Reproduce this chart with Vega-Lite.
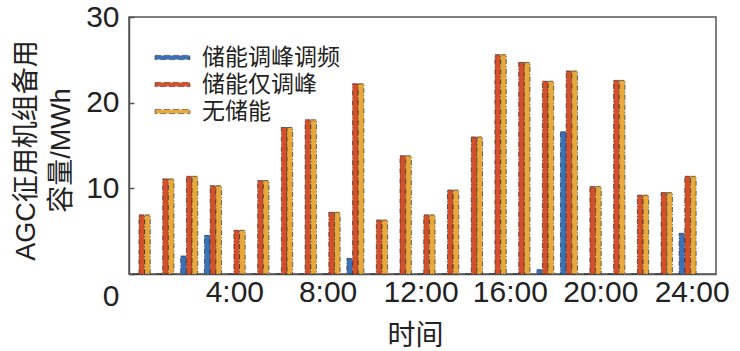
{
  "$schema": "https://vega.github.io/schema/vega-lite/v6.json",
  "width": 587,
  "height": 257,
  "autosize": {"type": "none"},
  "padding": {"left": 129, "top": 17, "right": 24, "bottom": 77},
  "background": "white",
  "config": {
    "font": "Liberation Sans, Noto Sans CJK SC",
    "view": {"stroke": "#555555", "strokeWidth": 1.5},
    "axis": {"domainColor": "#555555", "domainWidth": 1.5, "grid": false, "labelColor": "#222222", "titleColor": "#222222", "titleFontWeight": "normal"}
  },
  "data": {
    "values": [
      {"hour": 1, "series": "储能调峰调频", "value": 0},
      {"hour": 2, "series": "储能调峰调频", "value": 0},
      {"hour": 3, "series": "储能调峰调频", "value": 2.1},
      {"hour": 4, "series": "储能调峰调频", "value": 4.5},
      {"hour": 5, "series": "储能调峰调频", "value": 0},
      {"hour": 6, "series": "储能调峰调频", "value": 0},
      {"hour": 7, "series": "储能调峰调频", "value": 0},
      {"hour": 8, "series": "储能调峰调频", "value": 0},
      {"hour": 9, "series": "储能调峰调频", "value": 0},
      {"hour": 10, "series": "储能调峰调频", "value": 1.8},
      {"hour": 11, "series": "储能调峰调频", "value": 0},
      {"hour": 12, "series": "储能调峰调频", "value": 0},
      {"hour": 13, "series": "储能调峰调频", "value": 0},
      {"hour": 14, "series": "储能调峰调频", "value": 0},
      {"hour": 15, "series": "储能调峰调频", "value": 0},
      {"hour": 16, "series": "储能调峰调频", "value": 0},
      {"hour": 17, "series": "储能调峰调频", "value": 0},
      {"hour": 18, "series": "储能调峰调频", "value": 0.5},
      {"hour": 19, "series": "储能调峰调频", "value": 16.6},
      {"hour": 20, "series": "储能调峰调频", "value": 0},
      {"hour": 21, "series": "储能调峰调频", "value": 0},
      {"hour": 22, "series": "储能调峰调频", "value": 0},
      {"hour": 23, "series": "储能调峰调频", "value": 0},
      {"hour": 24, "series": "储能调峰调频", "value": 4.75},
      {"hour": 1, "series": "储能仅调峰", "value": 6.9},
      {"hour": 2, "series": "储能仅调峰", "value": 11.1},
      {"hour": 3, "series": "储能仅调峰", "value": 11.4},
      {"hour": 4, "series": "储能仅调峰", "value": 10.3},
      {"hour": 5, "series": "储能仅调峰", "value": 5.1},
      {"hour": 6, "series": "储能仅调峰", "value": 10.9},
      {"hour": 7, "series": "储能仅调峰", "value": 17.1},
      {"hour": 8, "series": "储能仅调峰", "value": 18.0},
      {"hour": 9, "series": "储能仅调峰", "value": 7.2},
      {"hour": 10, "series": "储能仅调峰", "value": 22.2},
      {"hour": 11, "series": "储能仅调峰", "value": 6.3},
      {"hour": 12, "series": "储能仅调峰", "value": 13.8},
      {"hour": 13, "series": "储能仅调峰", "value": 6.9},
      {"hour": 14, "series": "储能仅调峰", "value": 9.8},
      {"hour": 15, "series": "储能仅调峰", "value": 16.0},
      {"hour": 16, "series": "储能仅调峰", "value": 25.6},
      {"hour": 17, "series": "储能仅调峰", "value": 24.7},
      {"hour": 18, "series": "储能仅调峰", "value": 22.5},
      {"hour": 19, "series": "储能仅调峰", "value": 23.7},
      {"hour": 20, "series": "储能仅调峰", "value": 10.2},
      {"hour": 21, "series": "储能仅调峰", "value": 22.6},
      {"hour": 22, "series": "储能仅调峰", "value": 9.2},
      {"hour": 23, "series": "储能仅调峰", "value": 9.5},
      {"hour": 24, "series": "储能仅调峰", "value": 11.4},
      {"hour": 1, "series": "无储能", "value": 6.9},
      {"hour": 2, "series": "无储能", "value": 11.1},
      {"hour": 3, "series": "无储能", "value": 11.4},
      {"hour": 4, "series": "无储能", "value": 10.3},
      {"hour": 5, "series": "无储能", "value": 5.1},
      {"hour": 6, "series": "无储能", "value": 10.9},
      {"hour": 7, "series": "无储能", "value": 17.1},
      {"hour": 8, "series": "无储能", "value": 18.0},
      {"hour": 9, "series": "无储能", "value": 7.2},
      {"hour": 10, "series": "无储能", "value": 22.2},
      {"hour": 11, "series": "无储能", "value": 6.3},
      {"hour": 12, "series": "无储能", "value": 13.8},
      {"hour": 13, "series": "无储能", "value": 6.9},
      {"hour": 14, "series": "无储能", "value": 9.8},
      {"hour": 15, "series": "无储能", "value": 16.0},
      {"hour": 16, "series": "无储能", "value": 25.6},
      {"hour": 17, "series": "无储能", "value": 24.7},
      {"hour": 18, "series": "无储能", "value": 22.5},
      {"hour": 19, "series": "无储能", "value": 23.7},
      {"hour": 20, "series": "无储能", "value": 10.2},
      {"hour": 21, "series": "无储能", "value": 22.6},
      {"hour": 22, "series": "无储能", "value": 9.2},
      {"hour": 23, "series": "无储能", "value": 9.5},
      {"hour": 24, "series": "无储能", "value": 11.4}
    ]
  },
  "encoding": {
    "x": {
      "field": "hour",
      "type": "quantitative",
      "scale": {"domain": [0.673, 24.985], "nice": false, "zero": false},
      "axis": {
        "title": "时间",
        "titleFontSize": 28,
        "titleX": 286,
        "titleY": 62,
        "titleBaseline": "middle",
        "titleAnchor": "middle",
        "values": [4.9, 8.83, 12.75, 16.51, 20.32, 24.17],
        "labelExpr": "round((datum.value-1)/4)*4 + ':00'",
        "labelFontSize": 30,
        "labelPadding": 3,
        "ticks": false,
        "labelFlush": false,
        "labelOverlap": false
      }
    },
    "y": {
      "field": "value",
      "type": "quantitative",
      "scale": {"domain": [0, 30], "nice": false},
      "axis": {
        "title": ["AGC征用机组备用", "容量/MWh"],
        "titleFontSize": 27,
        "titleLineHeight": 35,
        "titleX": -103,
        "titleY": 133,
        "titleAngle": 270,
        "titleBaseline": "middle",
        "titleAlign": "center",
        "values": [0, 10, 20, 30],
        "labelFontSize": 30,
        "tickSize": -5,
        "tickColor": "#555555",
        "tickWidth": 1.5,
        "labelPadding": 15,
        "labelOffset": {"condition": {"test": "datum.value === 0", "value": 22}, "value": 0},
        "labelFlush": false,
        "labelOverlap": false
      }
    },
    "color": {
      "field": "series",
      "type": "nominal",
      "scale": {"domain": ["储能调峰调频", "储能仅调峰", "无储能"], "range": ["#3A72BA", "#D4502A", "#E8A93A"]},
      "legend": {
        "title": null,
        "orient": "none",
        "legendX": 32,
        "legendY": 29,
        "labelFontSize": 23,
        "labelFont": "Noto Sans CJK SC",
        "labelColor": "#222222",
        "symbolType": "M-2,-0.24H2V0.24H-2Z",
        "symbolSize": 306,
        "symbolStrokeColor": "#333333",
        "symbolStrokeWidth": 0.6,
        "symbolDash": [6, 3],
        "rowPadding": 3,
        "labelOffset": 18
      }
    }
  },
  "layer": [
    {
      "transform": [{"filter": "datum.series === '储能调峰调频'"}],
      "mark": {"type": "bar", "width": 5.6, "xOffset": -5.7, "stroke": "#2a2a2a", "strokeWidth": 0.7, "strokeDash": [5, 2, 1, 2]}
    },
    {
      "transform": [{"filter": "datum.series === '储能仅调峰'"}],
      "mark": {"type": "bar", "width": 5.6, "xOffset": 0, "stroke": "#2a2a2a", "strokeWidth": 0.7, "strokeDash": [5, 2, 1, 2]}
    },
    {
      "transform": [{"filter": "datum.series === '无储能'"}],
      "mark": {"type": "bar", "width": 5.6, "xOffset": 5.7, "stroke": "#2a2a2a", "strokeWidth": 0.7, "strokeDash": [5, 2, 1, 2]}
    }
  ]
}
